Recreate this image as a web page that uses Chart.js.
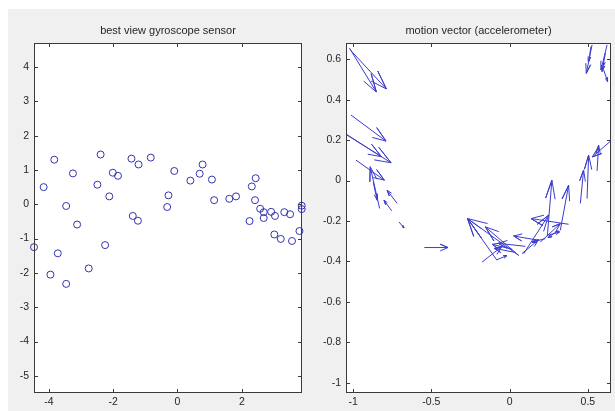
<!DOCTYPE html>
<html>
<head>
<meta charset="utf-8">
<script src="https://cdn.jsdelivr.net/npm/chart.js@4.4.1/dist/chart.umd.min.js"></script>
<style>
  html, body { margin: 0; padding: 0; background: #fff; }
  body { width: 615px; height: 411px; position: relative; overflow: hidden; }
  #figure { position: absolute; left: 8px; top: 9px; right: 0; bottom: 0; background: #f0f0f0; }
  .panel { position: absolute; top: 0; height: 411px; }
  #gyroPanel { left: 0; width: 310px; }
  #accelPanel { left: 310px; width: 305px; }
</style>
</head>
<body>
<div id="figure"></div>
<div class="panel" id="gyroPanel"><canvas id="gyroChart"></canvas></div>
<div class="panel" id="accelPanel"><canvas id="accelChart"></canvas></div>
<script>
// left panel: gyroscope scatter
const gyroX = [-4.46, -4.16, -3.83, -3.95, -3.72, -3.46, -3.46, -3.25, -3.12, -2.76, -2.49, -2.39,
  -2.25, -2.12, -2.01, -1.85, -1.43, -1.39, -1.21, -1.23, -0.83, -0.32, -0.28, -0.10, 0.40, 0.69,
  0.78, 1.07, 1.14, 1.61, 1.82, 2.24, 2.31, 2.43, 2.41, 2.57, 2.68, 2.68, 2.91, 3.03, 3.01, 3.21,
  3.32, 3.50, 3.56, 3.79, 3.86, 3.86];
const gyroY = [-1.25, 0.50, 1.30, -2.05, -1.43, -0.05, -2.32, 0.90, -0.59, -1.87, 0.57, 1.45,
  -1.19, 0.23, 0.92, 0.83, 1.33, -0.34, 1.16, -0.48, 1.36, -0.08, 0.26, 0.97, 0.69, 0.89,
  1.16, 0.72, 0.12, 0.16, 0.23, -0.49, 0.52, 0.76, 0.12, -0.13, -0.23, -0.40, -0.22, -0.34, -0.88, -1.01,
  -0.23, -0.29, -1.07, -0.78, -0.04, -0.14];
const gyroXTicks = [-4, -2, 0, 2];
const gyroYTicks = [-5, -4, -3, -2, -1, 0, 1, 2, 3, 4];

// right panel: accelerometer quiver (tail x, tail y, u, v)
const accelX = [-1.025, -1.019, -1.014, -1.046, -1.040, -0.982, -0.831, -0.872, -0.719, -0.754, -0.707, -0.545,
  0.058, 0.058, -0.081, -0.081, -0.176, 0.017, 0.036, 0.100,
  0.241, 0.324, 0.452, 0.495, 0.559, 0.676,
  0.377, 0.090, 0.185, 0.313, 0.228, 0.079, 0.196, 0.249,
  0.527, 0.520, 0.623, 0.612, 0.601];
const accelY = [0.656, 0.646, 0.324, 0.230, 0.225, 0.101, -0.138, -0.008, -0.113, -0.150, -0.205, -0.331,
  -0.370, -0.370, -0.394, -0.391, -0.403, -0.340, -0.355, -0.325,
  -0.275, -0.246, -0.113, -0.089, 0.048, 0.216,
  -0.216, -0.361, -0.295, -0.246, -0.287, -0.361, -0.304, -0.270,
  0.671, 0.662, 0.671, 0.630, 0.547];
const accelU = [0.173, 0.231, 0.224, 0.226, 0.282, 0.181, -0.060, 0.025, -0.064, -0.049, 0.032, 0.151,
  -0.327, -0.213, -0.188, 0.064, 0.128, -0.128, -0.134, -0.173,
  0.029, 0.053, 0.021, 0.010, 0.010, -0.147,
  -0.240, 0.159, -0.159, -0.068, -0.085, 0.106, 0.128, 0.070,
  -0.037, -0.015, -0.039, -0.021, 0.026];
const accelV = [-0.218, -0.193, -0.129, -0.112, -0.137, -0.099, 0.206, -0.089, 0.065, 0.053, -0.029, 0.000,
  0.182, 0.141, 0.206, 0.020, 0.078, 0.025, 0.020, 0.015,
  0.277, 0.223, 0.165, 0.215, 0.127, -0.099,
  0.028, 0.190, 0.021, -0.036, -0.017, 0.069, 0.091, 0.016,
  -0.141, -0.074, -0.124, -0.091, -0.058];
const accelXTicks = [-1, -0.5, 0, 0.5];
const accelYTicks = [-1, -0.8, -0.6, -0.4, -0.2, 0, 0.2, 0.4, 0.6];

const FONT = '"Liberation Sans", Arial, sans-serif';
const TEXT_COLOR = '#262626';
const BOX_COLOR = '#3a3a3a';
const TICK_LEN = 4;

// white axes background, box with inward ticks on all sides, title over the axes
const matlabAxes = {
  id: 'matlabAxes',
  beforeDraw(chart) {
    const { ctx, chartArea: a } = chart;
    ctx.save();
    ctx.fillStyle = '#fff';
    ctx.fillRect(a.left, a.top, a.right - a.left, a.bottom - a.top);
    ctx.restore();
  },
  afterDraw(chart, args, opts) {
    const { ctx, chartArea: a, scales } = chart;
    ctx.save();
    ctx.strokeStyle = BOX_COLOR;
    ctx.lineWidth = 1;
    ctx.strokeRect(a.left + 0.5, a.top + 0.5, a.right - a.left - 1, a.bottom - a.top - 1);
    ctx.beginPath();
    scales.x.ticks.forEach((t) => {
      const px = Math.round(scales.x.getPixelForValue(t.value)) + 0.5;
      ctx.moveTo(px, a.bottom);
      ctx.lineTo(px, a.bottom - TICK_LEN);
      ctx.moveTo(px, a.top);
      ctx.lineTo(px, a.top + TICK_LEN);
    });
    scales.y.ticks.forEach((t) => {
      const py = Math.round(scales.y.getPixelForValue(t.value)) + 0.5;
      ctx.moveTo(a.left, py);
      ctx.lineTo(a.left + TICK_LEN, py);
      ctx.moveTo(a.right, py);
      ctx.lineTo(a.right - TICK_LEN, py);
    });
    ctx.stroke();
    ctx.fillStyle = TEXT_COLOR;
    ctx.font = '11px ' + FONT;
    ctx.textAlign = 'center';
    ctx.textBaseline = 'middle';
    ctx.fillText(opts.text, (a.left + a.right) / 2, a.top - 12);
    ctx.restore();
  }
};

function axisOptions(position, min, max, tickValues, size) {
  return {
    type: 'linear',
    position,
    min,
    max,
    grid: { display: false, drawTicks: false },
    border: { display: false },
    afterBuildTicks: (scale) => {
      scale.ticks = tickValues.map((v) => ({ value: v }));
    },
    afterFit: (scale) => {
      if (position === 'left') scale.width = size;
      else scale.height = size;
    },
    ticks: {
      autoSkip: false,
      maxRotation: 0,
      padding: position === 'left' ? 5 : 3,
      color: TEXT_COLOR,
      font: { family: FONT, size: 10.5 },
      callback: (v) => String(v)
    }
  };
}

function baseOptions(title, padRight, xScale, yScale) {
  return {
    responsive: true,
    maintainAspectRatio: false,
    animation: false,
    layout: { padding: { top: 43, right: padRight, left: 0, bottom: 0 } },
    plugins: {
      legend: { display: false },
      tooltip: { enabled: false },
      matlabAxes: { text: title }
    },
    scales: { x: xScale, y: yScale }
  };
}

new Chart(document.getElementById('gyroChart'), {
  type: 'scatter',
  data: {
    datasets: [{
      data: gyroX.map((x, i) => ({ x, y: gyroY[i] })),
      pointStyle: 'circle',
      pointRadius: 3.5,
      borderWidth: 1,
      borderColor: '#3434b0',
      backgroundColor: 'rgba(0,0,0,0)',
      clip: false
    }]
  },
  options: baseOptions('best view gyroscope sensor', 8,
    axisOptions('bottom', -4.46, 3.87, gyroXTicks, 18),
    axisOptions('left', -5.5, 4.7, gyroYTicks, 34)),
  plugins: [matlabAxes]
});

// MATLAB-style quiver arrow: shaft plus two head barbs
function arrowPoints(x, y, u, v) {
  const alpha = 0.33;
  const beta = 0.33;
  const tx = x + u;
  const ty = y + v;
  return [
    { x, y },
    { x: tx, y: ty },
    { x: tx - alpha * (u + beta * v), y: ty - alpha * (v - beta * u) },
    { x: tx, y: ty },
    { x: tx - alpha * (u - beta * v), y: ty - alpha * (v + beta * u) }
  ];
}

new Chart(document.getElementById('accelChart'), {
  type: 'scatter',
  data: {
    datasets: accelX.map((x, i) => ({
      data: arrowPoints(x, accelY[i], accelU[i], accelV[i]),
      showLine: true,
      pointRadius: 0,
      borderWidth: 1,
      borderColor: 'rgb(60,60,205)',
      tension: 0,
      fill: false
    }))
  },
  options: baseOptions('motion vector (accelerometer)', 4,
    axisOptions('bottom', -1.046, 0.648, accelXTicks, 18),
    axisOptions('left', -1.05, 0.68, accelYTicks, 36)),
  plugins: [matlabAxes]
});
</script>
</body>
</html>
